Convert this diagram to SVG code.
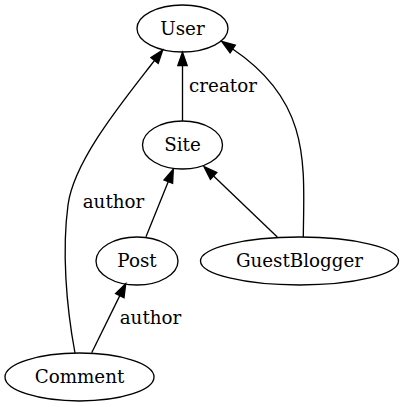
<svg xmlns="http://www.w3.org/2000/svg" width="406" height="407" viewBox="0 0 406 407">
<style>
.n ellipse{fill:none;stroke:#000;stroke-width:1.33}
text{font-family:"DejaVu Serif",serif;font-size:18.3px;fill:#000;text-anchor:middle}
.e path{fill:none;stroke:#000;stroke-width:1.33}
.e polygon{fill:#000;stroke:#000;stroke-width:1.33}
</style>
<rect width="406" height="407" fill="#fff"/>
<g id="edges" class="e">
<path d="M182.5,121 L182.5,65.6"/>
<polygon points="182.5,52.3 177.8,65.6 187.2,65.6"/>
<text x="223" y="91.5">creator</text>
<path d="M75,353 C66,305 62,250 68,205 C74,160 124,100 154.5,60.5"/>
<polygon points="162.7,50 150.9,57.6 158.2,63.4"/>
<text x="113.5" y="207.5">author</text>
<path d="M303.3,237 C304,165 311.6,102.2 232.7,49"/>
<polygon points="221.7,41.5 235.3,45.1 230.1,52.9"/>
<path d="M146,236.7 L168.3,181.6"/>
<polygon points="173.3,169.3 164,179.9 172.6,183.4"/>
<path d="M277.3,237 L213.6,175.9"/>
<polygon points="204,166.7 216.8,172.5 210.4,179.3"/>
<path d="M91.7,352.7 L119.8,295.6"/>
<polygon points="125.7,283.7 115.6,293.5 124,297.7"/>
<text x="150.5" y="324">author</text>
</g>
<g id="User" class="n"><ellipse cx="182.5" cy="28.5" rx="45.5" ry="23.5"/><text x="182.5" y="34.5">User</text></g>
<g id="Site" class="n"><ellipse cx="182.5" cy="145" rx="40" ry="24"/><text x="182.5" y="151">Site</text></g>
<g id="Post" class="n"><ellipse cx="137" cy="261" rx="41" ry="24"/><text x="137" y="267">Post</text></g>
<g id="GuestBlogger" class="n"><ellipse cx="299.5" cy="261" rx="99" ry="24"/><text x="299.5" y="267">GuestBlogger</text></g>
<g id="Comment" class="n"><ellipse cx="79.5" cy="377" rx="74.5" ry="24"/><text x="79.5" y="383">Comment</text></g>
</svg>
